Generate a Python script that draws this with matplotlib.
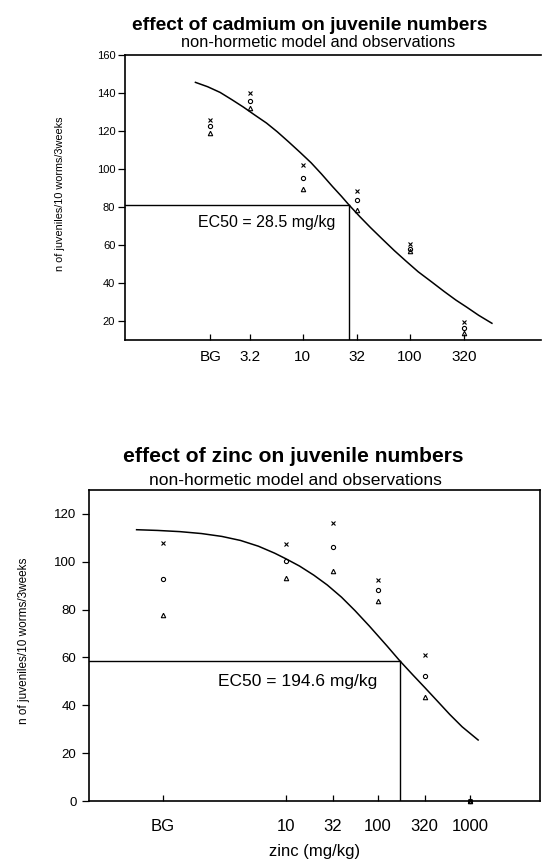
import matplotlib
matplotlib.use("Agg")
import matplotlib.pyplot as plt

plt.rcParams['font.family'] = ['Liberation Sans', 'DejaVu Sans']

# ---- cadmium (top panel) ----
cd_conc = [1.38, 3.2, 10, 32, 100, 320]          # BG drawn at ~1.4
cd_labels = ['BG', '3.2', '10', '32', '100', '320']
cd_obs_x = [126, 140, 102, 88.5, 60.5, 19.5]
cd_obs_o = [122.5, 136, 95.5, 83.5, 58, 16.5]
cd_obs_tri = [119, 132, 89.5, 78.5, 57, 13.5]
cd_curve_x = [1.0, 1.3, 1.7, 2.2, 2.8, 3.6, 4.6, 5.8, 7.4, 9.5, 12, 15, 19,
              23, 27, 34, 43, 56, 72, 92, 120, 160, 210, 270, 340, 440, 585]
cd_curve_y = [145.6, 143.3, 140.3, 136.4, 132.6, 128.3, 124.2, 119.6, 114.3,
              108.7, 103.3, 97.4, 90.8, 85.7, 81.2, 75.1, 69.2, 62.9, 57.0,
              51.6, 45.9, 40.6, 35.5, 31.0, 27.3, 23.0, 18.8]
cd_ec50_x = 27
cd_ec50_y = 81.2
cd_ec50_text = 'EC50 = 28.5 mg/kg'

# ---- zinc (bottom panel) ----
zn_conc = [0.46, 10, 32, 100, 320, 1000]         # BG drawn at ~0.46
zn_labels = ['BG', '10', '32', '100', '320', '1000']
zn_obs_x = [107.8, 107.5, 116.2, 92.2, 61.1, 0]
zn_obs_o = [92.9, 100.5, 106.3, 88.0, 52.3, 0]
zn_obs_tri = [77.8, 93.2, 96.2, 83.4, 43.4, 0]
zn_curve_x = [0.237, 0.4, 0.7, 1.2, 2.0, 3.2, 5.0, 7.5, 10, 14, 20, 28, 40,
              56, 80, 125, 172, 240, 324, 440, 600, 820, 1222]
zn_curve_y = [113.4, 113.1, 112.6, 111.8, 110.6, 108.9, 106.5, 103.6, 101.2,
              98.2, 94.4, 90.3, 85.2, 79.6, 73.2, 64.8, 58.6, 52.6, 47.3,
              41.8, 36.2, 31.0, 25.5]
zn_ec50_x = 172
zn_ec50_y = 58.6
zn_ec50_text = 'EC50 = 194.6 mg/kg'

W, H = 542, 861


def rect(left, top, right, bottom):
    return [left / W, 1 - bottom / H, (right - left) / W, (bottom - top) / H]


def draw_panel(ax, conc, labels, ox, oo, ot, cx, cy, ex, ey, xlim, ylim,
               yticks, ytick_size, xtick_size, xpad, ypad):
    ax.set_xscale('log')
    ax.plot(cx, cy, color='black', linewidth=1.1)
    ax.plot(conc, ox, linestyle='none', marker='x', markersize=3.2,
            markeredgewidth=0.8, color='black', clip_on=False)
    ax.plot(conc, oo, linestyle='none', marker='o', markersize=3.0,
            markeredgewidth=0.8, markerfacecolor='none', color='black',
            clip_on=False)
    ax.plot(conc, ot, linestyle='none', marker='^', markersize=3.2,
            markeredgewidth=0.8, markerfacecolor='none', color='black',
            clip_on=False)
    ax.plot([xlim[0], ex], [ey, ey], color='black', linewidth=1.0)
    ax.plot([ex, ex], [ylim[0], ey], color='black', linewidth=1.0)
    ax.set_xlim(xlim)
    ax.set_ylim(ylim)
    ax.set_xticks(conc)
    ax.set_xticklabels(labels)
    ax.minorticks_off()
    ax.set_yticks(yticks)
    ax.tick_params(axis='x', direction='in', length=4, width=0.9,
                   labelsize=xtick_size, pad=xpad)
    ax.tick_params(axis='y', direction='out', length=5, width=0.9,
                   labelsize=ytick_size, pad=ypad)
    for s in ax.spines.values():
        s.set_linewidth(1.2)


fig = plt.figure(figsize=(W / 100, H / 100), dpi=100)

# top panel
ax1 = fig.add_axes(rect(125, 55, 541, 340))
draw_panel(ax1, cd_conc, cd_labels, cd_obs_x, cd_obs_o, cd_obs_tri,
           cd_curve_x, cd_curve_y, cd_ec50_x, cd_ec50_y,
           (0.22, 1680), (10, 160), [20, 40, 60, 80, 100, 120, 140, 160],
           8, 11, 7, 2)
ax1.spines['right'].set_visible(False)
ax1.text(4.6, 72, cd_ec50_text, fontsize=11.5, ha='center', va='center')

fig.text(310 / W, 1 - 30 / H, 'effect of cadmium on juvenile numbers',
         fontsize=13.8, fontweight='bold', ha='center', va='baseline')
fig.text(318 / W, 1 - 47 / H, 'non-hormetic model and observations',
         fontsize=11.8, ha='center', va='baseline')
fig.text(60 / W, 1 - 194 / H, 'n of juveniles/10 worms/3weeks',
         fontsize=7.8, rotation=90, ha='center', va='center')

# bottom panel
ax2 = fig.add_axes(rect(89, 490, 540, 801))
draw_panel(ax2, zn_conc, zn_labels, zn_obs_x, zn_obs_o, zn_obs_tri,
           zn_curve_x, zn_curve_y, zn_ec50_x, zn_ec50_y,
           (0.072, 5750), (0, 130), [0, 20, 40, 60, 80, 100, 120],
           9.5, 12, 13, 4)
ax2.text(13.4, 50, zn_ec50_text, fontsize=12.5, ha='center', va='center')
ax2.set_xlabel('zinc (mg/kg)', fontsize=12, labelpad=7)

fig.text(293 / W, 1 - 462 / H, 'effect of zinc on juvenile numbers',
         fontsize=15.2, fontweight='bold', ha='center', va='baseline')
fig.text(295 / W, 1 - 485 / H, 'non-hormetic model and observations',
         fontsize=12.6, ha='center', va='baseline')
fig.text(24 / W, 1 - 641 / H, 'n of juveniles/10 worms/3weeks',
         fontsize=8.5, rotation=90, ha='center', va='center')

fig.savefig('out.png', dpi=100)
